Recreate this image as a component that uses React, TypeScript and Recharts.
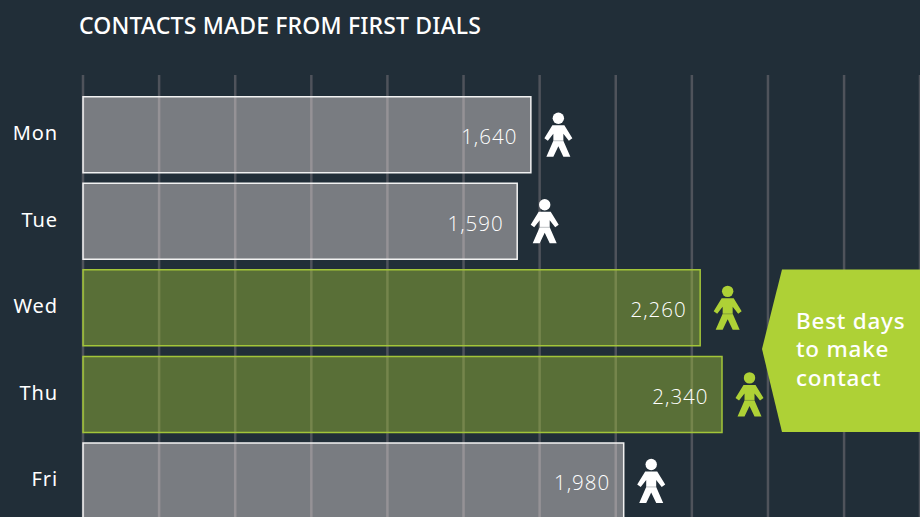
import { BarChart, Bar, XAxis, YAxis, CartesianGrid, Cell, LabelList } from "recharts";

const days = ["Mon", "Tue", "Wed", "Thu", "Fri"];
const contacts = [1640, 1590, 2260, 2340, 1980];
const bestDays = ["Wed", "Thu"];
const gridTicks = [0, 278.7, 557.4, 836.1, 1114.8, 1393.5, 1672.2, 1950.9, 2229.6, 2508.3, 2787];
const calloutLines = ["Best days", "to make", "contact"];

const BG = "#212e38";
const GREEN = "#aed136";
const FONT = "'Open Sans', 'Noto Sans', sans-serif";
const FONT_MEDIUM = "'Noto Sans', 'Open Sans', sans-serif";

const data = days.map((day, i) => ({ day, contacts: contacts[i] }));

function barColor(day: string) {
  return bestDays.includes(day) ? GREEN : "#fff3f1";
}

// little person glyph sitting just past the end of each bar
function PersonIcon(props: any) {
  const { x, y, width, height, index } = props;
  const cx = x + width + 27.5;
  const cy = y + height / 2;
  const color = bestDays.includes(days[index]) ? GREEN : "#ffffff";
  return (
    <g transform={`translate(${cx},${cy})`} fill={color}>
      <circle cx={0} cy={-16.5} r={5.7} />
      <path d="M-6,-9.5 L6,-9.5 L14,3.5 L10.5,6 L5,-1 L5,6 L12,22 L5,22 L0,11.5 L-5,22 L-12,22 L-5,6 L-5,-1 L-10.5,6 L-14,3.5 Z" />
      <line x1={-5} x2={5} y1={6} y2={6} stroke={BG} strokeOpacity={0.3} strokeWidth={1} />
    </g>
  );
}

function ValueLabel(props: any) {
  const { x, y, width, height, value } = props;
  return (
    <text
      x={x + width - 13.5}
      y={y + height / 2 + 9.5}
      textAnchor="end"
      fill="#fff"
      fontSize={20.5}
      fontWeight={300}
      fontFamily={FONT}
      letterSpacing={1}
    >
      {value.toLocaleString("en-US")}
    </text>
  );
}

export default function App() {
  return (
    <div style={{ position: "absolute", left: 0, top: 0, width: 920, height: 517, overflow: "hidden", background: BG, fontFamily: FONT }}>
      <div style={{ position: "absolute", left: 79, top: 10, color: "#fff", fontFamily: FONT_MEDIUM, fontSize: 23, fontWeight: 500, lineHeight: "30px", whiteSpace: "nowrap", letterSpacing: 0.17 }}>
        CONTACTS MADE FROM FIRST DIALS
      </div>
      <BarChart
        width={920}
        height={524}
        data={data}
        layout="vertical"
        barCategoryGap={5.5}
        margin={{ top: 75, right: 0, bottom: 0, left: 0 }}
      >
        <CartesianGrid horizontal={false} stroke="#4f535b" strokeWidth={2.5} />
        <XAxis type="number" domain={[0, 3065]} ticks={gridTicks} hide />
        <YAxis
          type="category"
          dataKey="day"
          width={83}
          padding={{ top: 16.25, bottom: 0 }}
          axisLine={false}
          tickLine={false}
          tickMargin={19}
          dy={-1.5}
          tick={{ fill: "#fff", fontSize: 20, fontFamily: FONT_MEDIUM, fontWeight: 400, letterSpacing: 0.9 }}
        />
        <Bar dataKey="contacts" isAnimationActive={false} strokeWidth={1.5}>
          {data.map((d) => (
            <Cell key={d.day} fill={barColor(d.day)} fillOpacity={0.4} stroke={bestDays.includes(d.day) ? "#a3c539" : "#f2f2f2"} />
          ))}
          <LabelList dataKey="contacts" content={ValueLabel} />
          <LabelList dataKey="contacts" content={PersonIcon} />
        </Bar>
      </BarChart>
      <svg width={920} height={517} style={{ position: "absolute", left: 0, top: 0 }}>
        <polygon points="782,269.5 920,269.5 920,432 782,432 762,349" fill={GREEN} />
        <text x={796} fill="#fff" fontSize={22.5} fontFamily={FONT_MEDIUM} fontWeight={500} letterSpacing={0.75}>
          {calloutLines.map((line, i) => (
            <tspan key={line} x={796} y={329 + i * 28.3}>
              {line}
            </tspan>
          ))}
        </text>
      </svg>
    </div>
  );
}
